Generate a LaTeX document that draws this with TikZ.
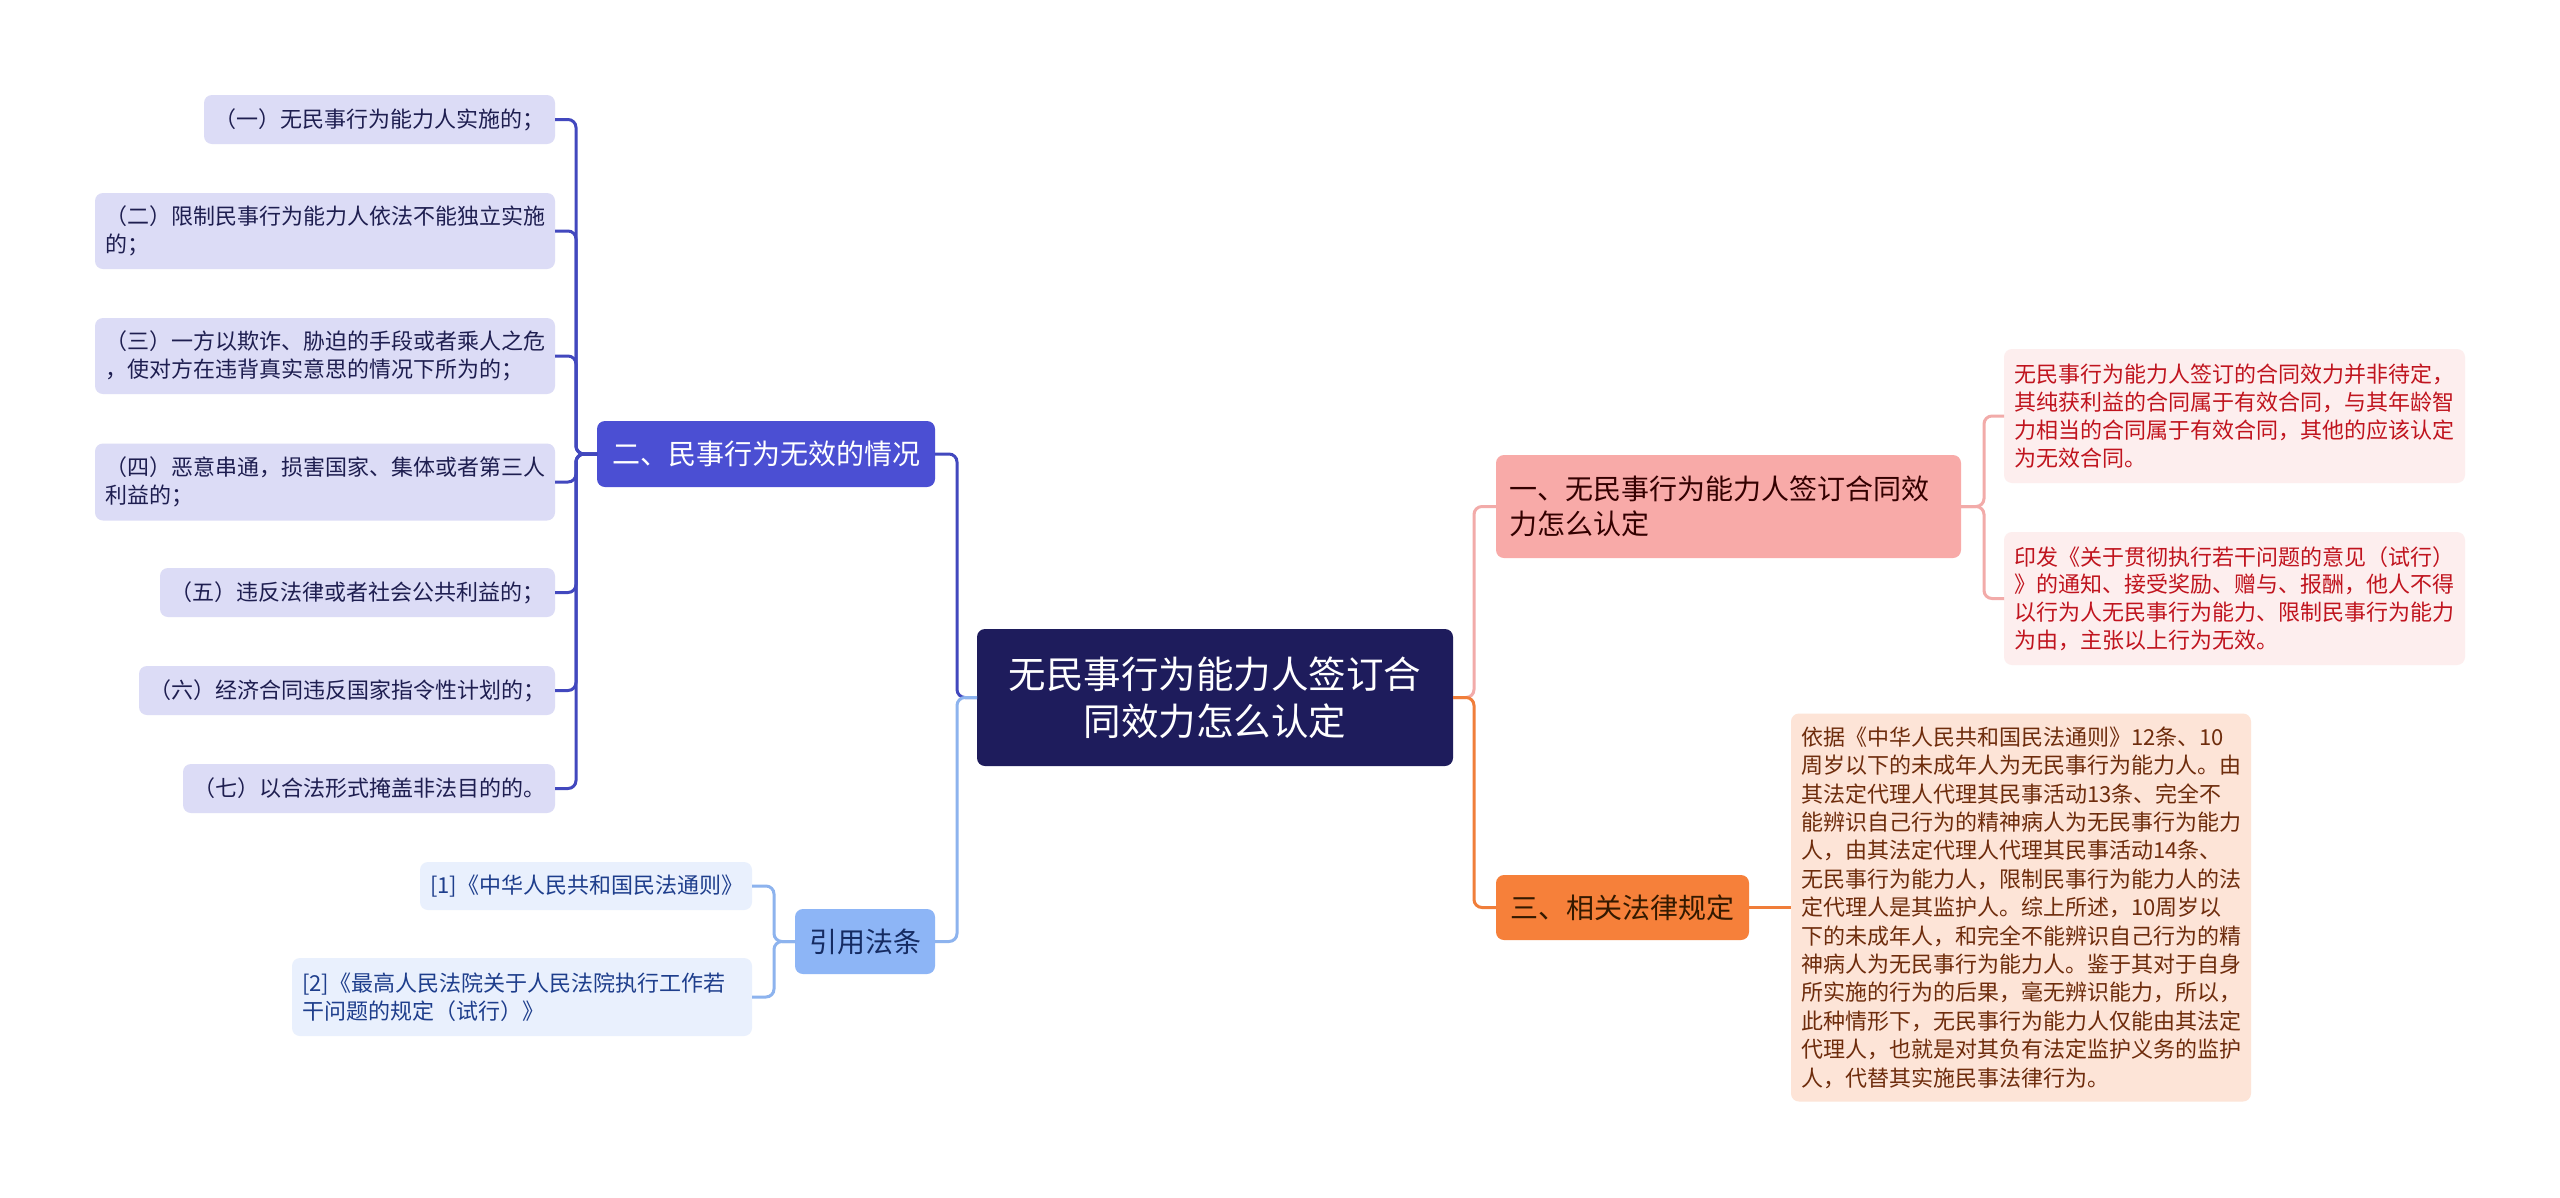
\documentclass[tikz,border=0pt]{standalone}
\usepackage{fontspec}
\newfontfamily\cjk{Noto Sans CJK SC}
\usetikzlibrary{positioning}
\definecolor{rootfill}{HTML}{1E1C5C}
\definecolor{erfill}{HTML}{4B4FD3}
\definecolor{erline}{HTML}{4248BE}
\definecolor{erleaf}{HTML}{DCDCF6}
\definecolor{ertext}{HTML}{1E1E50}
\definecolor{yyfill}{HTML}{8DB5F6}
\definecolor{yyline}{HTML}{8DB3EE}
\definecolor{yyleaf}{HTML}{E9F0FD}
\definecolor{yytext}{HTML}{1E3E8C}
\definecolor{yifill}{HTML}{F8AAA8}
\definecolor{yiline}{HTML}{F2ABA9}
\definecolor{yileaf}{HTML}{FDEEEE}
\definecolor{yitext}{HTML}{C0141E}
\definecolor{sanfill}{HTML}{F6803A}
\definecolor{sanline}{HTML}{F07E3A}
\definecolor{sanleaf}{HTML}{FDE4D7}
\definecolor{santext}{HTML}{6E2C0C}

\begin{document}
\begin{tikzpicture}[x=1pt,y=-1pt,every node/.style={outer sep=0pt,inner sep=0pt},
    leafbox/.style={rounded corners=8pt,inner xsep=10pt,align=left,
    font=\cjk\fontsize{22}{27.8}\selectfont},
    topicbox/.style={rounded corners=8pt,inner xsep=13pt,align=left,
    font=\cjk\fontsize{28}{35}\selectfont},
    rootbox/.style={rounded corners=8pt,align=center,fill=rootfill,text=white,
    font=\cjk\fontsize{37.5}{47}\selectfont},
    conn/.style={line width=3pt,rounded corners=8pt}]

    \fill[white] (0,0) rectangle (2560,1197);
    \useasboundingbox (0,0) rectangle (2560,1197);

    \node[rootbox,minimum width=476pt,minimum height=137pt] (root) at (1215,697.5)
    {无民事行为能力人签订合\\同效力怎么认定};

    \node[topicbox,fill=erfill,text=white,minimum width=338pt,minimum height=66pt,
    anchor=east] (er) at (935,454) {二、民事行为无效的情况};
    \node[leafbox,fill=erleaf,text=ertext,text width=331pt,minimum height=49pt,
    anchor=east] (l1) at (555,119.5) {（一）无民事行为能力人实施的；};
    \node[leafbox,fill=erleaf,text=ertext,text width=440pt,minimum height=76pt,
    anchor=east] (l2) at (555,231) {（二）限制民事行为能力人依法不能独立实施\\的；};
    \node[leafbox,fill=erleaf,text=ertext,text width=440pt,minimum height=76pt,
    anchor=east] (l3) at (555,356) {（三）一方以欺诈、胁迫的手段或者乘人之危\\，使对方在违背真实意思的情况下所为的；};
    \node[leafbox,fill=erleaf,text=ertext,text width=440pt,minimum height=77pt,
    anchor=east] (l4) at (555,482) {（四）恶意串通，损害国家、集体或者第三人\\利益的；};
    \node[leafbox,fill=erleaf,text=ertext,text width=375pt,minimum height=49pt,
    anchor=east] (l5) at (555,592.5) {（五）违反法律或者社会公共利益的；};
    \node[leafbox,fill=erleaf,text=ertext,text width=396pt,minimum height=49pt,
    anchor=east] (l6) at (555,690.5) {（六）经济合同违反国家指令性计划的；};
    \node[leafbox,fill=erleaf,text=ertext,text width=352pt,minimum height=49pt,
    anchor=east] (l7) at (555,788.5) {（七）以合法形式掩盖非法目的的。};

    \node[topicbox,fill=yyfill,text=yytext!70!black,minimum width=140pt,minimum height=65pt,
    anchor=east] (yy) at (935,941.5) {引用法条};
    \node[leafbox,fill=yyleaf,text=yytext,text width=312pt,minimum height=48pt,
    anchor=east] (c1) at (752,886) {[1]《中华人民共和国民法通则》};
    \node[leafbox,fill=yyleaf,text=yytext,text width=440pt,minimum height=78pt,
    anchor=east] (c2) at (752,997) {[2]《最高人民法院关于人民法院执行工作若\\干问题的规定（试行）》};

    \node[topicbox,fill=yifill,text=black!80!red,text width=439pt,minimum height=103pt,
    anchor=west] (yi) at (1496,506.5) {一、无民事行为能力人签订合同效\\力怎么认定};
    \node[leafbox,fill=yileaf,text=yitext,text width=441pt,minimum height=134pt,
    anchor=west] (r1) at (2004,416) {无民事行为能力人签订的合同效力并非待定，\\其纯获利益的合同属于有效合同，与其年龄智\\力相当的合同属于有效合同，其他的应该认定\\为无效合同。};
    \node[leafbox,fill=yileaf,text=yitext,text width=441pt,minimum height=133pt,
    anchor=west] (r2) at (2004,598.5) {印发《关于贯彻执行若干问题的意见（试行）\\》的通知、接受奖励、赠与、报酬，他人不得\\以行为人无民事行为能力、限制民事行为能力\\为由，主张以上行为无效。};

    \node[topicbox,fill=sanfill,text=black!80!orange,minimum width=253pt,minimum height=65pt,
    anchor=west] (san) at (1496,907.5) {三、相关法律规定};
    \node[leafbox,fill=sanleaf,text=santext,text width=440pt,minimum height=388pt,
    font=\cjk\fontsize{22}{28.4}\selectfont,right=42pt of san] (s1)
    {依据《中华人民共和国民法通则》12条、10\\周岁以下的未成年人为无民事行为能力人。由\\其法定代理人代理其民事活动13条、完全不\\能辨识自己行为的精神病人为无民事行为能力\\人，由其法定代理人代理其民事活动14条、\\无民事行为能力人，限制民事行为能力人的法\\定代理人是其监护人。综上所述，10周岁以\\下的未成年人，和完全不能辨识自己行为的精\\神病人为无民事行为能力人。鉴于其对于自身\\所实施的行为的后果，毫无辨识能力，所以，\\此种情形下，无民事行为能力人仅能由其法定\\代理人，也就是对其负有法定监护义务的监护\\人，代替其实施民事法律行为。};

    \draw[conn,draw=erline] (root.west) -- ++(-20,0) |- (er.east);
    \draw[conn,draw=yyline] (root.west) -- ++(-20,0) |- (yy.east);
    \draw[conn,draw=yiline] (root.east) -- ++(21,0) |- (yi.west);
    \draw[conn,draw=sanline] (root.east) -- ++(21,0) |- (san.west);
    \foreach \X in {1,...,7}
    {
      \draw[conn,draw=erline] (er.west) -- ++(-21,0) |- (l\X.east);
    }
    \foreach \X in {1,2}
    {
      \draw[conn,draw=yyline] (yy.west) -- ++(-21,0) |- (c\X.east);
      \draw[conn,draw=yiline] (yi.east) -- ++(23,0) |- (r\X.west);
    }
    \draw[conn,draw=sanline] (san.east) -- (s1.west);
\end{tikzpicture}
\end{document}
